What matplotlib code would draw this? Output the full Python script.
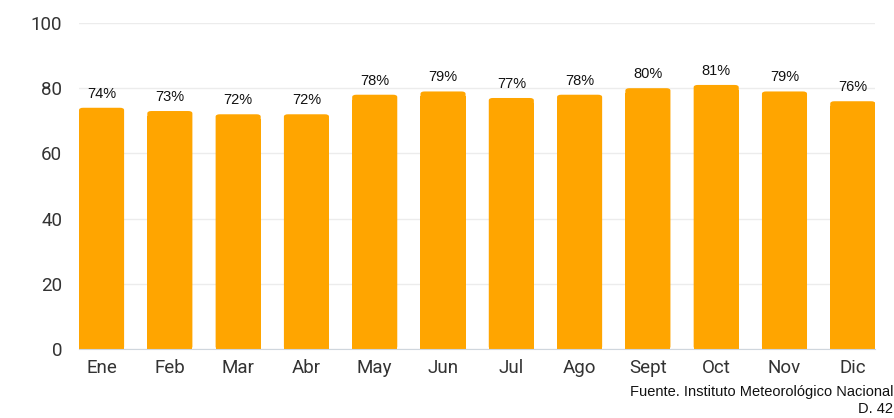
import matplotlib.pyplot as plt
from matplotlib.patches import FancyBboxPatch

months = ["Ene", "Feb", "Mar", "Abr", "May", "Jun", "Jul", "Ago", "Sept", "Oct", "Nov", "Dic"]
humidity = [74, 73, 72, 72, 78, 79, 77, 78, 80, 81, 79, 76]
yticks = [0, 20, 40, 60, 80, 100]

bar_color = "#FFA500"
label_font = ["Liberation Sans Narrow", "Liberation Sans", "DejaVu Sans"]

fig = plt.figure(figsize=(8.95, 4.18), dpi=100)
ax = fig.add_axes([0.0883, 0.165, 0.8897, 0.78])

width = 0.66
bars = ax.bar(range(len(months)), humidity, width=width, color=bar_color, zorder=2)

# draw each bar with slightly rounded top corners
for b in bars:
    b.set_visible(False)
    ax.add_patch(FancyBboxPatch((b.get_x(), 0), b.get_width(), b.get_height(),
                                boxstyle="round,pad=0,rounding_size=0.06",
                                mutation_aspect=12,
                                facecolor=bar_color, edgecolor="none", zorder=2))
    ax.add_patch(plt.Rectangle((b.get_x(), 0), b.get_width(), b.get_height() - 1.5,
                               facecolor=bar_color, edgecolor="none", zorder=2))

for i, v in enumerate(humidity):
    ax.text(i, v + 2.2, f"{v}%", ha="center", va="bottom", fontsize=10.5,
            family=label_font, fontstretch="condensed", color="#111111")

ax.set_xlim(-0.33, len(months) - 0.67)
ax.set_ylim(0, 100)
ax.set_yticks(yticks)
ax.set_xticks(range(len(months)))
ax.set_xticklabels(months)
ax.tick_params(axis="both", length=0, labelsize=13.5, colors="#333333",
               labelfontfamily="Roboto")
ax.tick_params(axis="x", pad=7)
ax.tick_params(axis="y", pad=12)
ax.grid(axis="y", color="#ececec", linewidth=1, zorder=0)
for s in ["top", "right", "left"]:
    ax.spines[s].set_visible(False)
ax.spines["bottom"].set_color("#cfd6dd")
ax.spines["bottom"].set_zorder(3)

fig.text(0.998, 0.078, "Fuente. Instituto Meteorológico Nacional", ha="right",
         va="top", fontsize=10.5, family=label_font, fontstretch="condensed",
         color="#111111")
fig.text(0.998, 0.004, "D. 42", ha="right", va="bottom", fontsize=10.5,
         family=label_font, fontstretch="condensed", color="#111111")

fig.savefig("out.png", dpi=100)
